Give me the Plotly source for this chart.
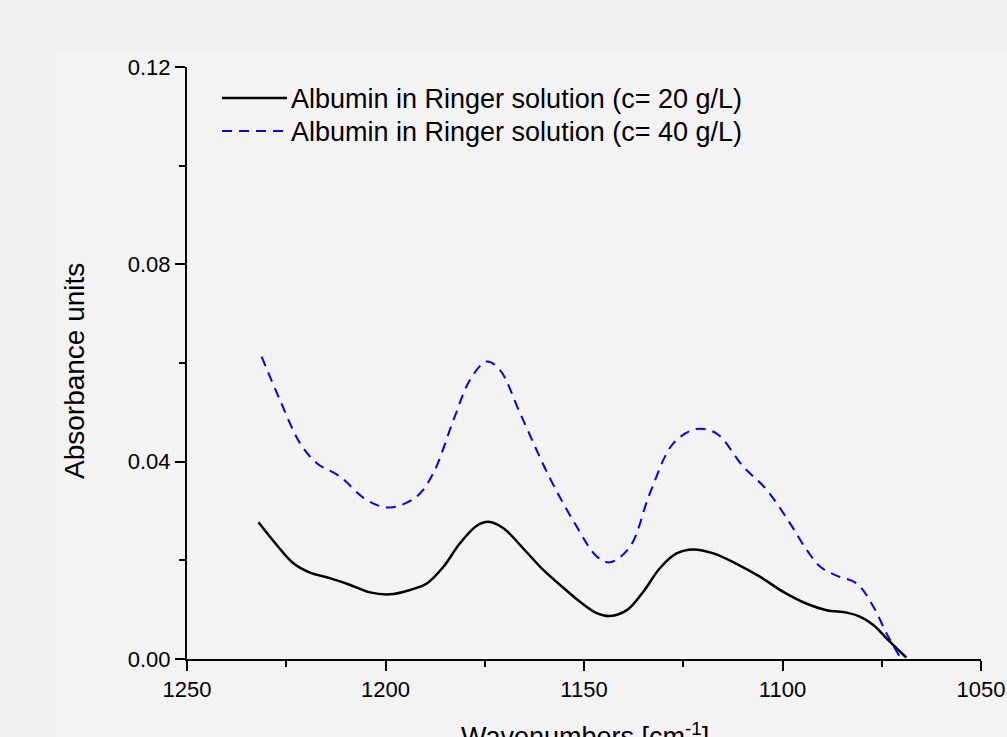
import plotly.graph_objects as go

# Data
wn_20 = [1232.0, 1227.4, 1223.2, 1219.0, 1214.0, 1208.9, 1203.9, 1198.9, 1193.8,
         1189.6, 1185.4, 1181.2, 1177.0, 1174.1, 1170.3, 1165.3, 1160.2, 1156.0,
         1151.0, 1146.8, 1143.5, 1139.2, 1135.1, 1130.9, 1126.7, 1122.5, 1117.4,
         1111.6, 1105.7, 1099.8, 1093.9, 1088.9, 1083.8, 1080.5, 1077.1, 1073.8,
         1068.8]
abs_20 = [0.0277, 0.0231, 0.0194, 0.0175, 0.0164, 0.0150, 0.0135, 0.0131, 0.0140,
          0.0153, 0.0187, 0.0235, 0.0270, 0.0278, 0.0265, 0.0224, 0.0180, 0.0150,
          0.0116, 0.0093, 0.0087, 0.0099, 0.0136, 0.0184, 0.0214, 0.0222, 0.0214,
          0.0193, 0.0167, 0.0136, 0.0112, 0.0099, 0.0094, 0.0086, 0.0069, 0.0042,
          0.0003]

wn_40 = [1231.2, 1226.6, 1221.5, 1217.3, 1211.5, 1204.7, 1198.9, 1192.2, 1188.0,
         1182.9, 1178.7, 1174.5, 1171.2, 1166.1, 1158.8, 1151.9, 1146.8, 1143.5,
         1138.4, 1133.4, 1127.5, 1121.7, 1116.6, 1109.9, 1104.0, 1098.1, 1093.9,
         1090.5, 1086.4, 1081.3, 1077.1, 1073.8, 1070.5]
abs_40 = [0.0613, 0.0525, 0.0437, 0.0397, 0.0370, 0.0322, 0.0307, 0.0329, 0.0376,
          0.0484, 0.0566, 0.0603, 0.0586, 0.0498, 0.0370, 0.0269, 0.0208, 0.0196,
          0.0228, 0.0336, 0.0437, 0.0466, 0.0457, 0.0390, 0.0343, 0.0275, 0.0221,
          0.0187, 0.0169, 0.0153, 0.0106, 0.0052, 0.0005]

names = ["Albumin in Ringer solution (c= 20 g/L)",
         "Albumin in Ringer solution (c= 40 g/L)"]
x_ticks = [1250, 1200, 1150, 1100, 1050]
y_ticks = [0.00, 0.04, 0.08, 0.12]

FONT = "Arial, Liberation Sans, sans-serif"
W, H = 1007, 737
L, R, T, B = 187, 26, 67, 78
pw, ph = W - L - R, H - T - B


def px_x(p):
    return (p - L) / pw


def px_y(p):
    return (H - B - p) / ph


BLACK_LINE = dict(color="black", width=2.5)
BLUE_LINE = dict(color="#0000ff", width=2, dash="10px,7px")

fig = go.Figure()
fig.add_trace(go.Scatter(x=wn_20, y=abs_20, mode="lines", name=names[0],
                         line=dict(**BLACK_LINE, shape="spline", smoothing=1.0)))
fig.add_trace(go.Scatter(x=wn_40, y=abs_40, mode="lines", name=names[1],
                         line=dict(**BLUE_LINE, shape="spline", smoothing=1.0)))

# manual legend (long line samples as in the reference)
legend_rows = [(98, BLACK_LINE, names[0]), (131, BLUE_LINE, names[1])]
shapes = [dict(type="rect", xref="paper", yref="paper",
               x0=px_x(56), x1=px_x(W + 5), y0=px_y(H + 5), y1=px_y(50),
               fillcolor="#f3f3f3", line=dict(width=0), layer="below")]
annotations = []
for ypx, ln, txt in legend_rows:
    shapes.append(dict(type="line", xref="paper", yref="paper",
                       x0=px_x(222), x1=px_x(287), y0=px_y(ypx), y1=px_y(ypx), line=ln))
    annotations.append(dict(text=txt, xref="paper", yref="paper", x=px_x(289), y=px_y(ypx + 1),
                            xanchor="left", yanchor="middle", showarrow=False,
                            font=dict(size=27, family=FONT, color="black")))

annotations += [
    dict(text="Wavenumbers [cm<sup>-1</sup>]", xref="paper", yref="paper",
         x=px_x(585), y=px_y(716), xanchor="center", yanchor="top",
         showarrow=False, font=dict(size=27, family=FONT, color="black")),
    dict(text="Absorbance units", xref="paper", yref="paper", textangle=-90,
         x=px_x(74), y=px_y(371), xanchor="center", yanchor="middle",
         showarrow=False, font=dict(size=28, family=FONT, color="black")),
]

fig.update_layout(
    width=W, height=H,
    margin=dict(l=L, r=R, t=T, b=B, autoexpand=False),
    paper_bgcolor="#f0f0f0",
    plot_bgcolor="rgba(0,0,0,0)",
    font=dict(family=FONT, color="black", size=22),
    showlegend=False,
    shapes=shapes,
    annotations=annotations,
)

fig.update_xaxes(range=[1250, 1050], tickvals=x_ticks, ticktext=[str(v) for v in x_ticks],
                 automargin=False,
                 showgrid=False, zeroline=False, showline=True, linecolor="black", linewidth=2,
                 ticks="outside", ticklen=10, tickwidth=2, tickcolor="black",
                 minor=dict(dtick=25, tick0=1050, ticks="outside", ticklen=6, tickwidth=2,
                            tickcolor="black", showgrid=False),
                 tickfont=dict(size=22, family=FONT, color="black"))
fig.update_yaxes(range=[0, 0.12], tickvals=y_ticks, ticktext=[f"{v:.2f}" for v in y_ticks],
                 automargin=False,
                 showgrid=False, zeroline=False, showline=True, linecolor="black", linewidth=2,
                 ticks="outside", ticklen=10, tickwidth=2, tickcolor="black",
                 minor=dict(dtick=0.02, tick0=0, ticks="outside", ticklen=6, tickwidth=2,
                            tickcolor="black", showgrid=False),
                 tickfont=dict(size=22, family=FONT, color="black"))

fig.write_html("out.html")
